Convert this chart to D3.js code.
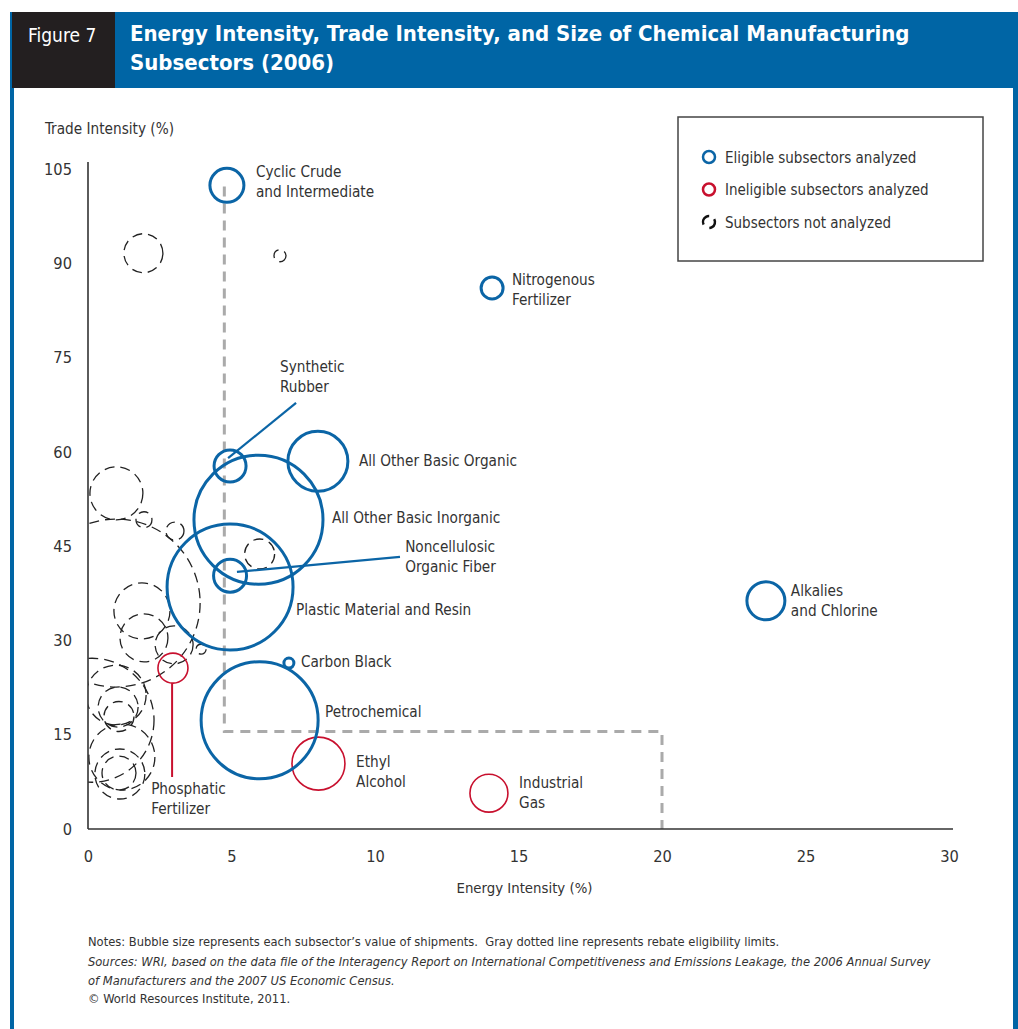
<!DOCTYPE html>
<html><head><meta charset="utf-8">
<script src="https://cdn.jsdelivr.net/npm/d3@7"></script>
<style>
html,body{margin:0;padding:0;background:#fff;}
svg text{font-family:"DejaVu Sans Condensed","Liberation Sans Narrow",sans-serif;font-stretch:condensed;}
</style></head>
<body><svg id="c" width="1018" height="1029"></svg>
<script>
// ---- data ----
const eligibleNames = ["Cyclic Crude and Intermediate","Nitrogenous Fertilizer","Synthetic Rubber","All Other Basic Organic","All Other Basic Inorganic","Noncellulosic Organic Fiber","Plastic Material and Resin","Carbon Black","Petrochemical","Alkalies and Chlorine"];
const eligibleEnergy = [4.84,14.08,4.95,8.01,5.94,4.95,4.95,7.0,5.98,23.62];
const eligibleTrade  = [102.4,86.07,57.75,58.5,49.2,40.3,38.5,26.4,17.3,36.3];
const eligibleShip   = [6.84,2.86,6.06,21.3,98.5,6.44,93.9,0.59,81,8.54];

const ineligibleNames = ["Phosphatic Fertilizer","Ethyl Alcohol","Industrial Gas"];
const ineligibleEnergy = [2.96,8.03,13.97];
const ineligibleTrade  = [25.6,10.4,5.7];
const ineligibleShip   = [5.33,16.6,8.54];

const otherEnergy = [1.93,6.69,0.99,1.95,3.03,5.98,0.98,1.88,1.95,3.0,3.94,0.14,0.98,1.05,1.08,1.18,1.11,1.08];
const otherTrade  = [91.6,91.2,53.4,49.2,47.4,43.75,35.95,34.7,30.4,29.3,28.6,17.3,21.3,19.4,17.9,11.45,8.75,8.9];
const otherShip   = [9.0,0.85,16.6,1.51,1.92,5.33,167,18.6,13.6,8.54,0.59,91,21.3,9.47,5.33,25.8,14.8,6.84];

const rebateEnergy = [4.75,4.75,20,20];
const rebateTrade  = [102.2,15.5,15.5,0];

const xTicks = [0,5,10,15,20,25,30];
const yTicks = [0,15,30,45,60,75,90,105];

const legendItems = ["Eligible subsectors analyzed","Ineligible subsectors analyzed","Subsectors not analyzed"];

// label layout (data units: left x, first-line baseline y)
const labelLayout = {
 "Cyclic Crude and Intermediate":{x:5.85,y:103.7,lines:["Cyclic Crude","and Intermediate"]},
 "Nitrogenous Fertilizer":{x:14.77,y:86.5,lines:["Nitrogenous","Fertilizer"]},
 "Synthetic Rubber":{x:6.69,y:72.7,lines:["Synthetic","Rubber"],leader:[[4.88,59.0],[7.25,67.8]]},
 "All Other Basic Organic":{x:9.44,y:57.75,lines:["All Other Basic Organic"]},
 "All Other Basic Inorganic":{x:8.50,y:48.7,lines:["All Other Basic Inorganic"]},
 "Noncellulosic Organic Fiber":{x:11.05,y:44.07,lines:["Noncellulosic","Organic Fiber"],leader:[[5.19,40.9],[10.87,43.3]]},
 "Plastic Material and Resin":{x:7.25,y:34.05,lines:["Plastic Material and Resin"]},
 "Carbon Black":{x:7.42,y:25.77,lines:["Carbon Black"]},
 "Petrochemical":{x:8.26,y:17.82,lines:["Petrochemical"]},
 "Alkalies and Chlorine":{x:24.49,y:37.07,lines:["Alkalies","and Chlorine"]},
 "Phosphatic Fertilizer":{x:2.20,y:5.57,lines:["Phosphatic","Fertilizer"],leader:[[2.93,23.2],[2.93,8.27]]},
 "Ethyl Alcohol":{x:9.34,y:9.86,lines:["Ethyl","Alcohol"]},
 "Industrial Gas":{x:15.02,y:6.52,lines:["Industrial","Gas"]}
};

// ---- drawing ----
const BLUE="#0b65a6", RED="#c8102e", HEAD="#0065a5", TXT="#333";
const LBL=15.2;
const svg=d3.select("#c");

// frame / header
svg.append("rect").attr("x",10).attr("y",12).attr("width",1008).attr("height",76).attr("fill",HEAD);
svg.append("rect").attr("x",12).attr("y",12).attr("width",103).attr("height",76).attr("fill","#231f20");
svg.append("rect").attr("x",10).attr("y",88).attr("width",4).attr("height",941).attr("fill",HEAD);
svg.append("rect").attr("x",1013).attr("y",88).attr("width",5).attr("height",941).attr("fill",HEAD);
svg.append("text").attr("x",28).attr("y",42).attr("fill","#fff").attr("font-size",19).text("Figure 7");
svg.append("text").attr("x",130).attr("y",41).attr("fill","#fff").attr("font-size",22).attr("font-weight","bold").text("Energy Intensity, Trade Intensity, and Size of Chemical Manufacturing");
svg.append("text").attr("x",130).attr("y",70).attr("fill","#fff").attr("font-size",22).attr("font-weight","bold").text("Subsectors (2006)");

const x=d3.scaleLinear().domain([0,30]).range([88,949]);
const y=d3.scaleLinear().domain([0,105]).range([829,169]);
const r=d3.scaleSqrt().domain([0,100]).range([0,65]);

svg.append("defs").append("clipPath").attr("id","plotclip").append("rect")
  .attr("x",x(0)).attr("y",100).attr("width",900).attr("height",y(0)-100);

// axes
const yAxis=d3.axisLeft(y).tickValues(yTicks).tickSize(0).tickPadding(16);
const gy=svg.append("g").attr("transform",`translate(${x(0)},0)`).call(yAxis);
gy.select(".domain").remove();
gy.selectAll("text").attr("font-size",16.3).attr("fill",TXT).attr("font-family",null);
const xAxis=d3.axisBottom(x).tickValues(xTicks).tickSize(0).tickPadding(21);
const gx=svg.append("g").attr("transform",`translate(0,${y(0)})`).call(xAxis);
gx.select(".domain").remove();
gx.selectAll("text").attr("font-size",16.3).attr("fill",TXT).attr("font-family",null);

svg.append("text").attr("x",45).attr("y",134).attr("font-size",15.2).attr("fill",TXT).text("Trade Intensity (%)");
svg.append("text").attr("x",(x(0)+x(30))/2+6).attr("y",893).attr("text-anchor","middle").attr("font-size",14.8).attr("fill",TXT).text("Energy Intensity (%)");

// rebate line
const plot=svg.append("g").attr("clip-path","url(#plotclip)");
plot.append("path").datum(rebateEnergy.map((e,i)=>[e,rebateTrade[i]]))
  .attr("d",d3.line().x(d=>x(d[0])).y(d=>y(d[1])))
  .attr("fill","none").attr("stroke","#aaa").attr("stroke-width",3).attr("stroke-dasharray","10,7");

// not analyzed
plot.selectAll("circle.other").data(otherEnergy.map((e,i)=>({e,t:otherTrade[i],s:otherShip[i]})))
 .join("circle").attr("class","other").attr("cx",d=>x(d.e)).attr("cy",d=>y(d.t)).attr("r",d=>r(d.s))
 .attr("fill","none").attr("stroke","#222").attr("stroke-width",1.3).attr("stroke-dasharray","10,6");

// analyzed bubbles, labels, leaders
const leaderLine=d3.line().x(d=>x(d[0])).y(d=>y(d[1]));
function drawGroup(names,en,tr,sh,color,sw){
  names.forEach((n,i)=>{
    plot.append("circle").attr("cx",x(en[i])).attr("cy",y(tr[i])).attr("r",r(sh[i]))
      .attr("fill","none").attr("stroke",color).attr("stroke-width",sw);
    const L=labelLayout[n];
    if(L.leader) svg.append("path").attr("d",leaderLine(L.leader)).attr("stroke",color).attr("stroke-width",color===RED?2:2.2).attr("fill","none");
    const t=svg.append("text").attr("x",x(L.x)).attr("y",y(L.y)).attr("font-size",LBL).attr("fill",TXT);
    L.lines.forEach((ln,j)=>t.append("tspan").attr("x",x(L.x)).attr("dy",j?20:0).text(ln));
  });
}
drawGroup(ineligibleNames,ineligibleEnergy,ineligibleTrade,ineligibleShip,RED,1.6);
drawGroup(eligibleNames,eligibleEnergy,eligibleTrade,eligibleShip,BLUE,3);

// axis lines
svg.append("line").attr("x1",x(0)).attr("x2",x(0)).attr("y1",162).attr("y2",y(0)).attr("stroke","#333").attr("stroke-width",1.6);
svg.append("line").attr("x1",x(0)).attr("x2",953).attr("y1",y(0)).attr("y2",y(0)).attr("stroke","#333").attr("stroke-width",1.6);

// legend
const lg=svg.append("g");
lg.append("rect").attr("x",678).attr("y",117).attr("width",305).attr("height",144).attr("fill","#fff").attr("stroke","#444").attr("stroke-width",1.5);
const lcol=[BLUE,RED,"#111"];
legendItems.forEach((s,i)=>{
  const cy=157+i*32.5;
  lg.append("circle").attr("cx",709).attr("cy",cy).attr("r",6).attr("fill","none").attr("stroke",lcol[i]).attr("stroke-width",2.5)
    .attr("stroke-dasharray",i===2?"12,6.85":null).attr("transform",i===2?`rotate(-30,709,${cy})`:null);
  lg.append("text").attr("x",725).attr("y",cy+5.5).attr("font-size",15).attr("fill",TXT).text(s);
});

// notes
const notes=svg.append("g").attr("font-size",12.8).attr("fill",TXT);
notes.append("text").attr("x",88).attr("y",946).attr("xml:space","preserve").text("Notes: Bubble size represents each subsector\u2019s value of shipments.  Gray dotted line represents rebate eligibility limits.");
notes.append("text").attr("x",88).attr("y",966).attr("font-style","italic").text("Sources: WRI, based on the data file of the Interagency Report on International Competitiveness and Emissions Leakage, the 2006 Annual Survey");
notes.append("text").attr("x",88).attr("y",985).attr("font-style","italic").text("of Manufacturers and the 2007 US Economic Census.");
notes.append("text").attr("x",88).attr("y",1003).text("\u00a9 World Resources Institute, 2011.");
</script></body></html>
